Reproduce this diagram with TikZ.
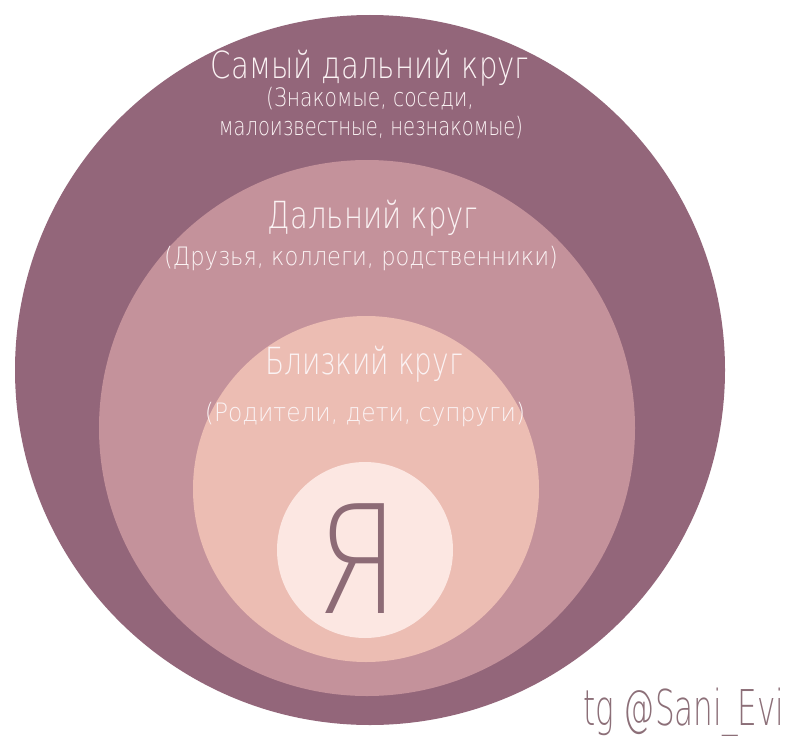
\documentclass[tikz,border=0pt]{standalone}
\usepackage{fontspec}
\usepackage{graphicx}
\newfontfamily\thinfont{DejaVuSans-ExtraLight.ttf}
\definecolor{ringA}{HTML}{93667A}
\definecolor{ringB}{HTML}{C4929B}
\definecolor{ringC}{HTML}{ECBDB3}
\definecolor{ringD}{HTML}{FCE7E2}
\definecolor{labelc}{HTML}{FBF3F4}
\definecolor{mec}{HTML}{8D6B76}
\definecolor{tagc}{HTML}{8C6F78}
\newcommand{\narrow}[2]{\scalebox{#1}[1]{#2}}
\begin{document}
\begin{tikzpicture}[x=0.75pt,y=-0.75pt,
  ring/.style={draw=none},
  lbl/.style={anchor=base,inner sep=0pt,text=labelc,font=\thinfont},
  big/.style={lbl,font=\thinfont\fontsize{28}{30}\selectfont},
  small/.style={lbl,font=\thinfont\fontsize{19}{21}\selectfont}]
\useasboundingbox (0,0) rectangle (792,735);
\fill[white] (0,0) rectangle (792,735);
\fill[ringA] (370,370) circle (355);
\fill[ringB] (367,428) circle (268);
\fill[ringC] (366,489) circle (173);
\fill[ringD] (365,550) circle (88);
\node[big] (t1) at (370,79) {\narrow{0.78}{Самый дальний круг}};
\node[small] (t1a) at (370,107) {\narrow{0.8}{(Знакомые, соседи,}};
\node[small] (t1b) at (371,135) {\narrow{0.77}{малоизвестные, незнакомые)}};
\node[big] (t2) at (373,228) {\narrow{0.78}{Дальний круг}};
\node[small] (t2a) at (361,265) {\narrow{0.89}{(Друзья, коллеги, родственники)}};
\node[big] (t3) at (364,374) {\narrow{0.75}{Близкий круг}};
\node[small] (t3a) at (365,421) {\narrow{0.92}{(Родители, дети, супруги)}};
\node[lbl,text=mec,font=\thinfont\fontsize{113}{115}\selectfont] (me) at (357,613) {\narrow{0.8}{Я}};
\node[anchor=base west,inner sep=0pt,text=tagc,font=\thinfont\fontsize{37}{39}\selectfont] (tag) at (583,725) {\narrow{0.63}{tg @Sani\_Evi}};
\end{tikzpicture}
\end{document}
